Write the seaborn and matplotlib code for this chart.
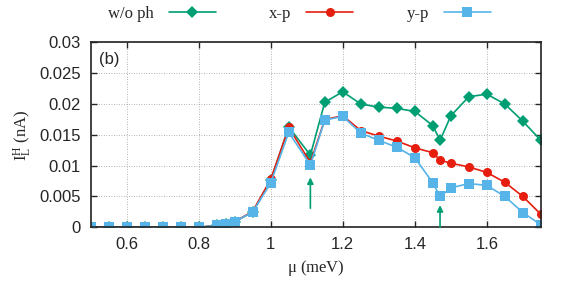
import numpy as np
import pandas as pd
import seaborn as sns
import matplotlib.pyplot as plt

# chemical potential (meV)
mu = [0.5, 0.55, 0.6, 0.65, 0.7, 0.75, 0.8, 0.85, 0.875, 0.9, 0.95, 1.0, 1.05,
      1.11, 1.15, 1.2, 1.25, 1.3, 1.35, 1.4, 1.45, 1.47, 1.5, 1.55, 1.6, 1.65,
      1.7, 1.75]

# heat current I_L^H (nA)
wo_ph = [0, 0, 0, 0, 0, 0, 0, 0.0003, 0.0006, 0.0009, 0.0025, 0.0076, 0.0163,
         0.0117, 0.0203, 0.0220, 0.0200, 0.0195, 0.0193, 0.0188, 0.0165, 0.0141,
         0.0181, 0.0212, 0.0216, 0.0200, 0.0172, 0.0141]
x_p = [0, 0, 0, 0, 0, 0, 0, 0.0003, 0.0006, 0.0009, 0.0026, 0.0078, 0.0162,
       0.0105, 0.0175, 0.0181, 0.0157, 0.0148, 0.0140, 0.0129, 0.0121, 0.0109,
       0.0104, 0.0098, 0.0089, 0.0073, 0.0050, 0.0021]
y_p = [0, 0, 0, 0, 0, 0, 0, 0.0003, 0.0006, 0.0009, 0.0025, 0.0072, 0.0154,
       0.0101, 0.0174, 0.0180, 0.0153, 0.0141, 0.0130, 0.0113, 0.0072, 0.0050,
       0.0064, 0.0071, 0.0068, 0.0050, 0.0024, 0.0004]

series = [("w/o ph", wo_ph, "#009e73", "D", 6),
          ("x-p", x_p, "#e51e10", "o", 6.5),
          ("y-p", y_p, "#56b4e9", "s", 6.5)]

sns.set_style("ticks")
plt.rcParams["font.family"] = ["Liberation Sans", "DejaVu Sans"]
plt.rcParams["mathtext.fontset"] = "custom"
plt.rcParams["mathtext.rm"] = "Liberation Serif"

fig = plt.figure(figsize=(5.81, 2.84), dpi=100)
ax = fig.add_axes([0.156, 0.1996, 0.775, 0.651])

for name, vals, col, mk, ms in series:
    df = pd.DataFrame({"mu": mu, "I": vals})
    sns.lineplot(data=df, x="mu", y="I", ax=ax, color=col, marker=mk,
                 markersize=ms, markeredgewidth=0, linewidth=1.2, label=name)

# arrows marking the dips
ax.annotate("", xy=(1.11, 0.0081), xytext=(1.11, 0.0031),
            arrowprops=dict(arrowstyle="-|>", color="#009e73", lw=1.2,
                            mutation_scale=9, shrinkA=0, shrinkB=0))
ax.annotate("", xy=(1.47, 0.0036), xytext=(1.47, 0.0),
            arrowprops=dict(arrowstyle="-|>", color="#009e73", lw=1.2,
                            mutation_scale=9, shrinkA=0, shrinkB=0))

ax.set_xlim(0.5, 1.75)
ax.set_ylim(0, 0.03)
ax.set_xticks([0.6, 0.8, 1.0, 1.2, 1.4, 1.6])
ax.set_xticklabels(["0.6", "0.8", "1", "1.2", "1.4", "1.6"])
ax.set_yticks([0, 0.005, 0.01, 0.015, 0.02, 0.025, 0.03])
ax.set_yticklabels(["0", "0.005", "0.01", "0.015", "0.02", "0.025", "0.03"])
ax.tick_params(direction="in", top=True, right=True, length=4, width=1,
               labelsize=12, pad=7)
ax.grid(True, linestyle=(0, (1, 2)), color="#999999", linewidth=0.6)
for s in ax.spines.values():
    s.set_linewidth(1.2)
    s.set_color("#222222")

ax.set_xlabel(r"$\mathrm{\mu}$ (meV)", fontsize=12, family="Liberation Serif")
ax.set_ylabel(r"$\mathrm{I_L^H}$ (nA)", fontsize=12, family="Liberation Serif",
              labelpad=4)
ax.text(0.018, 0.95, "(b)", transform=ax.transAxes, fontsize=12, va="top")

ax.legend(loc="lower left", bbox_to_anchor=(0.175, 0.9), bbox_transform=fig.transFigure,
          ncol=3, frameon=False, markerfirst=False, handlelength=2.8,
          columnspacing=3.2, handletextpad=0.9, borderaxespad=0,
          prop={"family": "Liberation Serif", "size": 12})

fig.savefig("out.png", dpi=100)
